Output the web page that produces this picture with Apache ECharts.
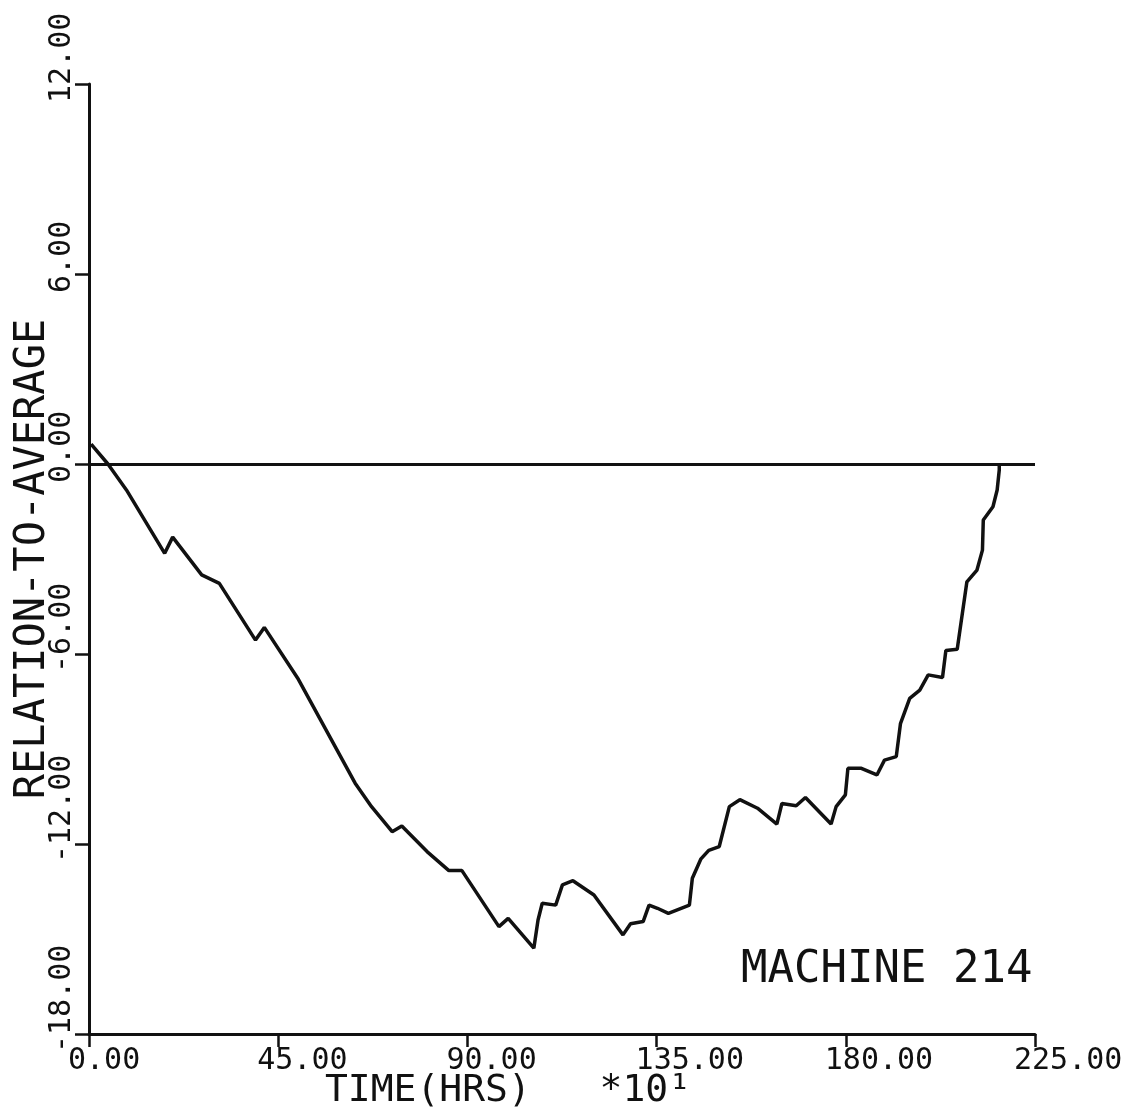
<!DOCTYPE html>
<html>
<head>
<meta charset="utf-8">
<script src="https://cdn.jsdelivr.net/npm/echarts@6/dist/echarts.min.js"></script>
<style>
html,body{margin:0;padding:0;background:#fff;}
#chart{width:1140px;height:1115px;}
</style>
</head>
<body>
<div id="chart"></div>
<script>
// Time (hrs x10)
var timeVals = [0.5, 4.5, 8.9, 18.0, 19.9, 26.8, 31.0, 39.6, 41.7, 49.8, 63.3, 67.2, 72.1, 74.4, 80.4, 85.6, 88.7, 97.5, 99.7, 105.8, 106.8, 107.8, 111.0, 112.6, 115.1, 120.1, 127.0, 128.8, 131.8, 133.2, 135.2, 137.8, 142.8, 143.5, 145.5, 147.4, 149.9, 152.3, 154.8, 159.0, 163.6, 164.8, 168.2, 170.4, 176.5, 177.7, 179.9, 180.5, 183.7, 187.4, 189.2, 192.0, 193.0, 195.2, 197.6, 199.6, 203.0, 203.8, 206.5, 208.8, 211.2, 212.5, 212.7, 215.0, 216.0, 216.5, 216.5];
// Relation-to-average values
var relVals = [0.63, 0.0, -0.82, -2.82, -2.31, -3.5, -3.77, -5.56, -5.16, -6.8, -10.08, -10.82, -11.61, -11.43, -12.24, -12.84, -12.84, -14.61, -14.35, -15.29, -14.4, -13.87, -13.93, -13.29, -13.16, -13.61, -14.87, -14.52, -14.45, -13.93, -14.03, -14.19, -13.93, -13.08, -12.48, -12.2, -12.08, -10.82, -10.6, -10.87, -11.37, -10.72, -10.79, -10.53, -11.37, -10.82, -10.45, -9.61, -9.61, -9.82, -9.35, -9.24, -8.2, -7.4, -7.14, -6.66, -6.74, -5.89, -5.85, -3.72, -3.35, -2.72, -1.77, -1.35, -0.82, -0.19, 0.0];
var xTicks = [0, 45, 90, 135, 180, 225];
var yTicks = [-18, -12, -6, 0, 6, 12];
var xTitle = 'TIME(HRS)   *10\u00B9';
var yTitle = 'RELATION-TO-AVERAGE';
var machineLabel = 'MACHINE 214';

var data = timeVals.map(function (t, i) { return [t, relVals[i]]; });
var FONT = 'DejaVu Sans Mono';
var INK = '#111';

var chart = echarts.init(document.getElementById('chart'), null, {renderer: 'canvas'});
chart.setOption({
  backgroundColor: '#fff',
  animation: false,
  grid: {left: 89, right: 105, top: 84, bottom: 81, containLabel: false, outerBoundsMode: 'none'},
  xAxis: {
    type: 'value',
    min: xTicks[0], max: xTicks[xTicks.length - 1], interval: 45,
    axisLine: {show: true, onZero: false, lineStyle: {color: INK, width: 3}},
    axisTick: {show: true, inside: false, length: 13, lineStyle: {color: INK, width: 2.5}},
    splitLine: {show: false},
    axisLabel: {
      show: true, margin: 12, fontFamily: FONT, fontSize: 30, color: INK,
      align: 'left', padding: [0, 0, 0, -21], hideOverlap: false,
      formatter: function (v) { return v.toFixed(2); }
    },
    name: xTitle, nameLocation: 'middle', nameGap: 38, nameMoveOverlap: false,
    nameTextStyle: {fontFamily: FONT, fontSize: 38, color: INK, padding: [0, 108, 0, 0]}
  },
  yAxis: {
    type: 'value',
    min: yTicks[0], max: yTicks[yTicks.length - 1], interval: 6,
    axisLine: {show: true, onZero: false, lineStyle: {color: INK, width: 3}},
    axisTick: {show: true, inside: false, length: 14, lineStyle: {color: INK, width: 2.5}},
    splitLine: {show: false},
    axisLabel: {
      show: true, rotate: 90, margin: 12, fontFamily: FONT, fontSize: 30, color: INK,
      align: 'left', verticalAlign: 'bottom', padding: [0, 0, 0, -19], hideOverlap: false,
      formatter: function (v) { return v.toFixed(2); }
    },
    name: yTitle, nameLocation: 'middle', nameRotate: 90, nameGap: 35, nameMoveOverlap: false,
    nameTextStyle: {fontFamily: FONT, fontSize: 42, color: INK}
  },
  series: [{
    type: 'line',
    data: data,
    showSymbol: false,
    symbol: 'none',
    lineStyle: {color: INK, width: 3.5},
    markLine: {
      silent: true, symbol: ['none', 'none'],
      label: {show: false},
      lineStyle: {color: INK, width: 3, type: 'solid'},
      data: [{yAxis: 0}]
    },
    z: 3
  }],
  graphic: [{
    type: 'text', left: 741, top: 949,
    style: {text: machineLabel, fontFamily: FONT, fontSize: 44, fill: INK}
  }]
});
</script>
</body>
</html>
